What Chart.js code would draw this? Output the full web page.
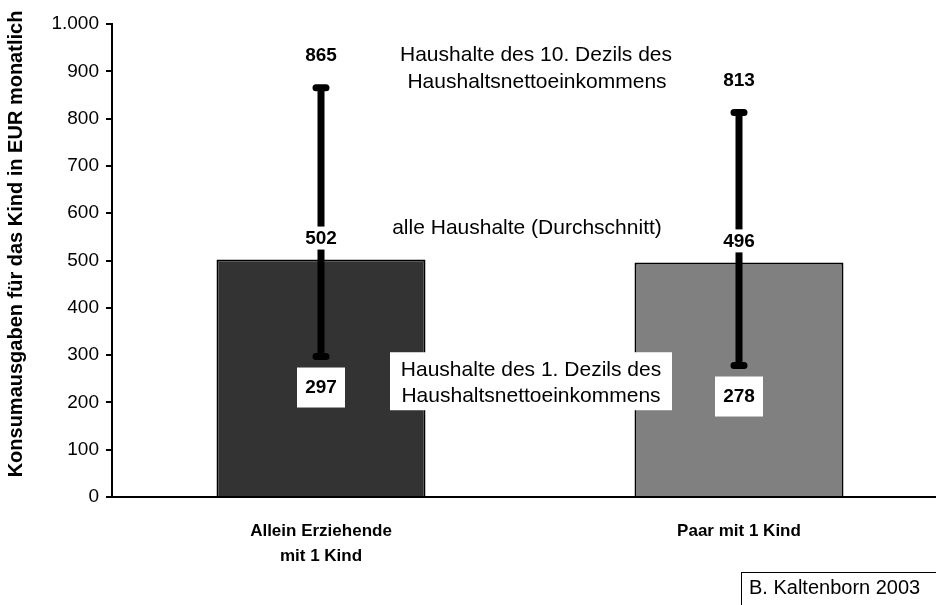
<!doctype html>
<html lang="de">
<head>
<meta charset="utf-8">
<title>Konsumausgaben für das Kind</title>
<style>
  html, body { margin: 0; padding: 0; background: #fff; overflow: hidden; }
  .chartBox { position: relative; width: 960px; height: 605px; }
</style>
</head>
<body>
<div class="chartBox"><canvas id="myChart"></canvas></div>
<script src="https://cdn.jsdelivr.net/npm/chart.js"></script>
<script>
const categories = [['Allein Erziehende', 'mit 1 Kind'], 'Paar mit 1 Kind'];
const meanValues = [502, 496];   // alle Haushalte (Durchschnitt)
const lowValues = [297, 278];    // 1. Dezil
const highValues = [865, 813];   // 10. Dezil
const barColors = ['#333333', '#808080'];
const yTickValues = [0, 100, 200, 300, 400, 500, 600, 700, 800, 900, 1000];
const yTitle = 'Konsumausgaben für das Kind in EUR monatlich';
const noteTop = ['Haushalte des 10. Dezils des', 'Haushaltsnettoeinkommens'];
const noteMid = 'alle Haushalte (Durchschnitt)';
const noteLow = ['Haushalte des 1. Dezils des', 'Haushaltsnettoeinkommens'];
const credit = 'B. Kaltenborn 2003';

const FONT = '"Liberation Sans", Arial, sans-serif';
Chart.defaults.font.family = FONT;
Chart.defaults.color = '#000';

// 1000 -> "1.000"
function fmt(v) {
    return String(v).replace(/\B(?=(\d{3})+(?!\d))/g, '.');
}

const overlay = {
    id: 'overlay',
    afterDatasetsDraw(chart) {
        const ctx = chart.ctx;
        const x = chart.scales.x;
        const y = chart.scales.y;
        const meta = chart.getDatasetMeta(0);
        ctx.save();

        // Spannweite 1. bis 10. Dezil
        ctx.strokeStyle = '#000';
        ctx.lineWidth = 7;
        ctx.lineCap = 'round';
        meta.data.forEach((bar, i) => {
            const hi = y.getPixelForValue(highValues[i]);
            const lo = y.getPixelForValue(lowValues[i]);
            ctx.beginPath();
            ctx.moveTo(bar.x, hi); ctx.lineTo(bar.x, lo);
            ctx.moveTo(bar.x - 5, hi); ctx.lineTo(bar.x + 5, hi);
            ctx.moveTo(bar.x - 5, lo); ctx.lineTo(bar.x + 5, lo);
            ctx.stroke();
        });

        // Werte
        ctx.font = 'bold 19px ' + FONT;
        ctx.textAlign = 'center';
        ctx.textBaseline = 'middle';
        meta.data.forEach((bar, i) => {
            const hi = y.getPixelForValue(highValues[i]);
            const lo = y.getPixelForValue(lowValues[i]);
            const mean = y.getPixelForValue(meanValues[i]);
            ctx.fillStyle = '#000';
            ctx.fillText(String(highValues[i]), bar.x, hi - 32);

            const w = ctx.measureText(String(meanValues[i])).width + 6;
            ctx.fillStyle = '#fff';
            ctx.fillRect(bar.x - w / 2, mean - 33, w, 23);
            ctx.fillStyle = '#000';
            ctx.fillText(String(meanValues[i]), bar.x, mean - 21);

            ctx.fillStyle = '#fff';
            ctx.fillRect(bar.x - 24, lo + 11, 48, 40);
            ctx.fillStyle = '#000';
            ctx.fillText(String(lowValues[i]), bar.x, lo + 31);
        });

        // Beschriftungen in der Mitte
        ctx.font = '21px ' + FONT;
        const mid = x.getPixelForValue(0.5);
        const ty = y.getPixelForValue(935);
        ctx.fillText(noteTop[0], mid + 6, ty);
        ctx.fillText(noteTop[1], mid + 7, ty + 27);
        ctx.fillText(noteMid, mid - 3, y.getPixelForValue(569));
        const by = y.getPixelForValue(268);
        ctx.fillStyle = '#fff';
        ctx.fillRect(mid - 140, by - 18, 282, 58);
        ctx.fillStyle = '#000';
        ctx.fillText(noteLow[0], mid + 1, by);
        ctx.fillText(noteLow[1], mid + 1, by + 26);

        // Achsentitel
        ctx.save();
        ctx.translate(16, 244);
        ctx.rotate(-Math.PI / 2);
        ctx.font = 'bold 20px ' + FONT;
        ctx.fillText(yTitle, 0, 0);
        ctx.restore();

        // Quelle
        ctx.strokeStyle = '#000';
        ctx.lineWidth = 1;
        ctx.strokeRect(741.5, 572.5, 300, 100);
        ctx.font = '20px ' + FONT;
        ctx.textAlign = 'left';
        ctx.fillText(credit, 749, 588);

        ctx.restore();
    }
};

new Chart(document.getElementById('myChart'), {
    type: 'bar',
    data: {
        labels: categories,
        datasets: [{
            data: meanValues,
            backgroundColor: barColors,
            borderColor: '#000',
            borderWidth: 2,
            categoryPercentage: 1,
            barPercentage: 0.5
        }]
    },
    options: {
        responsive: true,
        maintainAspectRatio: false,
        animation: false,
        layout: { padding: { top: 24, right: 12, left: 0, bottom: 0 } },
        plugins: {
            legend: { display: false },
            tooltip: { enabled: false }
        },
        scales: {
            x: {
                grid: { drawOnChartArea: false, drawTicks: false },
                border: { color: '#000', width: 2 },
                ticks: {
                    color: '#000',
                    padding: 22,
                    maxRotation: 0,
                    font: { size: 17, weight: 'bold', lineHeight: 1.45 }
                },
                afterFit(s) { s.height = 108; }
            },
            y: {
                min: 0,
                max: 1000,
                afterBuildTicks(s) { s.ticks = yTickValues.map(v => ({ value: v })); },
                grid: { drawOnChartArea: false, tickLength: 6, color: '#000', lineWidth: 2 },
                border: { color: '#000', width: 2 },
                ticks: {
                    color: '#000',
                    padding: 7,
                    font: { size: 19 },
                    callback: v => fmt(v)
                },
                afterFit(s) { s.width = 112; }
            }
        }
    },
    plugins: [overlay]
});
</script>
</body>
</html>
